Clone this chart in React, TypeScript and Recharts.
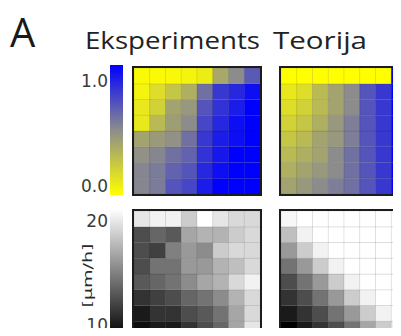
import { BarChart, Bar, Cell, XAxis, YAxis, Label } from 'recharts';

const columns = ['k1', 'k2', 'k3', 'k4', 'k5', 'k6', 'k7', 'k8'];
const rows = ['r1', 'r2', 'r3', 'r4', 'r5', 'r6', 'r7', 'r8']; // top to bottom

const fractionTicks = [0, 1];
const speedTicks = [10, 20];

// fraction (0 = yellow, 1 = blue), rows top -> bottom
const eksperimentsFraction = [
  [0.02, 0.02, 0.03, 0.05, 0.08, 0.38, 0.5, 0.68],
  [0.05, 0.15, 0.25, 0.35, 0.6, 0.8, 0.86, 0.95],
  [0.1, 0.2, 0.4, 0.45, 0.7, 0.82, 0.9, 1],
  [0.1, 0.3, 0.42, 0.5, 0.75, 0.86, 0.95, 1],
  [0.4, 0.44, 0.48, 0.6, 0.8, 0.9, 0.95, 1],
  [0.48, 0.52, 0.6, 0.65, 0.82, 0.92, 1, 1],
  [0.52, 0.56, 0.65, 0.7, 0.86, 0.95, 1, 1],
  [0.52, 0.56, 0.7, 0.75, 0.9, 1, 1, 1],
];

const teorijaFraction = [
  [0, 0, 0, 0, 0, 0, 0, 1],
  [0.1, 0.15, 0.3, 0.4, 0.5, 0.7, 0.8, 1],
  [0.15, 0.2, 0.3, 0.4, 0.5, 0.7, 0.8, 1],
  [0.2, 0.25, 0.35, 0.45, 0.55, 0.7, 0.8, 1],
  [0.25, 0.3, 0.4, 0.45, 0.55, 0.7, 0.8, 1],
  [0.3, 0.35, 0.4, 0.5, 0.6, 0.7, 0.8, 1],
  [0.35, 0.4, 0.45, 0.5, 0.6, 0.7, 0.8, 1],
  [0.4, 0.45, 0.5, 0.55, 0.6, 0.7, 0.8, 1],
];

// speed in µm/h (10 = black, 20 = white)
const eksperimentsSpeed = [
  [19, 19.5, 19.5, 18, 20, 19, 18.5, 18.5],
  [13, 14, 13.5, 16.5, 17, 17, 18, 18.5],
  [13, 12.5, 15, 16, 15.5, 18, 18.5, 18.5],
  [13, 14.5, 14.5, 16, 16, 17, 17.5, 18.5],
  [13.5, 14, 14.5, 15.5, 16.5, 17, 18.5, 19.5],
  [12, 12.5, 13, 14, 14.5, 15.5, 17, 18.5],
  [11, 12, 12, 13, 13.5, 14.5, 16.5, 18.5],
  [10.5, 11, 11, 12, 13, 14, 16.5, 19],
];

const teorijaSpeed = [
  [19.7, 20, 20, 20, 20, 20, 20, 20],
  [17.5, 19.5, 20, 20, 20, 20, 20, 20],
  [16, 18, 19.5, 20, 20, 20, 20, 20],
  [14.5, 16, 18, 19.5, 20, 20, 20, 20],
  [13, 14.5, 16, 18, 19.5, 20, 20, 20],
  [12, 13, 14.5, 16, 18, 19.5, 20, 20],
  [11, 12, 13, 14.5, 16, 18, 19.5, 20],
  [10, 11, 12, 13, 14.5, 16.5, 18, 19.5],
];

function mix(a: number[], b: number[], t: number) {
  const c = a.map((v, i) => Math.round(v + (b[i] - v) * t));
  return `rgb(${c[0]},${c[1]},${c[2]})`;
}

function yellowBlue(t: number) {
  const yellow = [255, 255, 0];
  const gray = [140, 140, 140];
  const blue = [0, 0, 255];
  return t < 0.5 ? mix(yellow, gray, t * 2) : mix(gray, blue, (t - 0.5) * 2);
}

function grayScale(v: number) {
  const t = Math.max(0, Math.min(1, (v - 10) / 10));
  return mix([0, 0, 0], [255, 255, 255], t);
}

const gridData = columns.map((col) => {
  const row: Record<string, string | number> = { col };
  rows.forEach((r) => (row[r] = 1));
  return row;
});

function Heatmap({ values, color, left, top }: any) {
  return (
    <div style={{ position: 'absolute', left, top, width: 126, height: 126, border: '2px solid #1c1c1c' }}>
      <BarChart
        width={126}
        height={126}
        data={gridData}
        margin={{ top: 0, right: 0, bottom: 0, left: 0 }}
        barCategoryGap={0}
        barGap={0}
      >
        <XAxis dataKey="col" hide />
        <YAxis hide domain={[0, rows.length]} />
        {[...rows].reverse().map((r) => {
          const ri = rows.indexOf(r);
          return (
            <Bar key={r} dataKey={r} stackId="a" isAnimationActive={false}>
              {columns.map((c, ci) => (
                <Cell key={c} fill={color(values[ri][ci])} stroke="rgba(0,0,0,0.09)" strokeWidth={1} />
              ))}
            </Bar>
          );
        })}
      </BarChart>
    </div>
  );
}

function ColorBar({ left, top, height, gradId, color, domain, ticks, format, shiftTop, shiftBottom, unit }: any) {
  const renderTick = (p: any) => {
    const v = p.payload.value;
    const dy = v === domain[1] ? shiftTop : shiftBottom;
    return (
      <text
        x={p.x}
        y={p.y + dy}
        textAnchor="end"
        dominantBaseline="central"
        fontFamily="DejaVu Sans"
        fontSize={17}
        fill="#3a3a3a"
      >
        {format(v)}
      </text>
    );
  };
  return (
    <div style={{ position: 'absolute', left, top }}>
      <BarChart
        width={53}
        height={height}
        data={[{ name: 'bar', v: domain[1] }]}
        margin={{ top: 0, right: 0, bottom: 0, left: 0 }}
        barCategoryGap={0}
      >
        <defs>
          <linearGradient id={gradId} x1="0" y1="0" x2="0" y2="1">
            {[1, 0.75, 0.5, 0.25, 0].map((t, i) => (
              <stop key={i} offset={`${(1 - t) * 100}%`} stopColor={color(domain[0] + t * (domain[1] - domain[0]))} />
            ))}
          </linearGradient>
        </defs>
        <XAxis dataKey="name" hide />
        <YAxis
          width={40}
          domain={domain}
          ticks={ticks}
          interval={0}
          axisLine={false}
          tickLine={false}
          tickSize={0}
          tickMargin={2}
          tick={renderTick}
        >
          {unit && (
            <Label
              position="insideLeft"
              content={(lp: any) => {
                const vb = lp.viewBox;
                const cx = vb.x + 18;
                const cy = vb.y + vb.height / 2 + 2;
                return (
                  <text
                    x={cx}
                    y={cy}
                    transform={`rotate(-90 ${cx} ${cy})`}
                    textAnchor="middle"
                    dominantBaseline="central"
                    fontFamily="DejaVu Sans"
                    fontSize={12}
                    textLength={64}
                    lengthAdjust="spacingAndGlyphs"
                    fill="#2a2a2a"
                  >
                    {unit}
                  </text>
                );
              }}
            />
          )}
        </YAxis>
        <Bar dataKey="v" fill={`url(#${gradId})`} isAnimationActive={false} />
      </BarChart>
    </div>
  );
}

export default function App() {
  return (
    <div style={{ position: 'relative', width: 401, height: 336, margin: -8, overflow: 'hidden', background: '#fff' }}>
      <svg width={401} height={336} style={{ position: 'absolute', left: 0, top: 0 }}>
        <text x={10} y={47} fontFamily="Open Sans" fontSize={40} fill="#1a1a1a">A</text>
        <text x={85} y={49} fontFamily="Open Sans" fontSize={23} fill="#222" textLength={175} lengthAdjust="spacingAndGlyphs">
          Eksperiments
        </text>
        <text x={273} y={49} fontFamily="Open Sans" fontSize={23} fill="#222" textLength={94} lengthAdjust="spacingAndGlyphs">
          Teorija
        </text>
      </svg>

      <ColorBar
        left={70}
        top={65}
        height={130}
        gradId="ybGrad"
        color={yellowBlue}
        domain={[0, 1]}
        ticks={fractionTicks}
        format={(v: number) => v.toFixed(1)}
        shiftTop={16}
        shiftBottom={-9}
      />
      <ColorBar
        left={70}
        top={209}
        height={129}
        gradId="grayGrad"
        color={grayScale}
        domain={[10, 20]}
        ticks={speedTicks}
        format={(v: number) => String(v)}
        shiftTop={12}
        shiftBottom={-13}
        unit="[μm/h]"
      />

      <Heatmap values={eksperimentsFraction} color={yellowBlue} left={132} top={66} />
      <Heatmap values={teorijaFraction} color={yellowBlue} left={279} top={66} />
      <Heatmap values={eksperimentsSpeed} color={grayScale} left={132} top={209} />
      <Heatmap values={teorijaSpeed} color={grayScale} left={279} top={209} />
    </div>
  );
}
